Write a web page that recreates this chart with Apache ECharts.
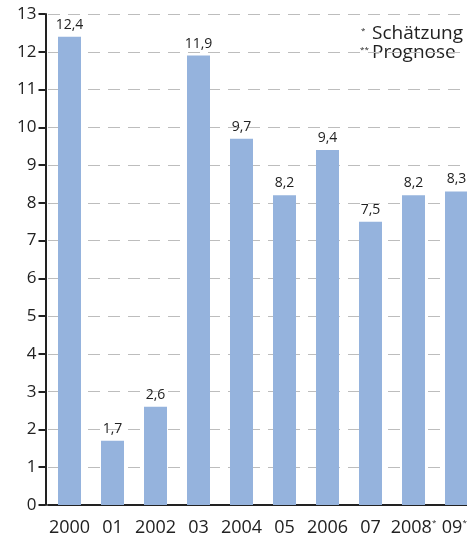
<!DOCTYPE html>
<html>
<head>
<meta charset="utf-8">
<script src="https://cdn.jsdelivr.net/npm/echarts@6/dist/echarts.min.js"></script>
<style>
  html, body { margin: 0; padding: 0; background: #fff; }
  #chart { width: 467px; height: 539px; }
</style>
</head>
<body>
<div id="chart"></div>
<script>
// Year categories (with markers for estimate/forecast)
const categories = ['2000', '01', '2002', '03', '2004', '05', '2006', '07', '2008*', '09**'];
const values = [12.4, 1.7, 2.6, 11.9, 9.7, 8.2, 9.4, 7.5, 8.2, 8.3];
const yTicks = [0, 1, 2, 3, 4, 5, 6, 7, 8, 9, 10, 11, 12, 13];
const legendLines = ['Schätzung', 'Prognose'];

const FONT = '"Open Sans", "Noto Sans", sans-serif';
const TEXT = '#222';

const chart = echarts.init(document.getElementById('chart'), null, { renderer: 'canvas' });

function xLabel(v) {
  const m = v.match(/^([^*]+)(\*+)$/);
  if (m) return m[1] + '{sup|' + m[2] + '}';
  return v;
}

chart.setOption({
  animation: false,
  grid: { left: 48, top: 14, bottom: 34, width: 430, outerBoundsMode: 'none', containLabel: false },
  xAxis: {
    type: 'category',
    data: categories,
    axisLine: { lineStyle: { color: TEXT, width: 2 } },
    axisTick: { show: false },
    axisLabel: {
      interval: 0,
      color: TEXT, fontSize: 18, fontFamily: FONT, margin: 14,
      formatter: xLabel,
      rich: {
        sup: { fontSize: 8, verticalAlign: 'top', color: TEXT, fontFamily: FONT, padding: [0, 0, 10, 0] }
      }
    }
  },
  yAxis: {
    type: 'value',
    offset: 2.5,
    min: yTicks[0],
    max: yTicks[yTicks.length - 1],
    interval: 1,
    axisLine: { show: true, lineStyle: { color: TEXT, width: 2 } },
    axisTick: { show: true, length: 7, lineStyle: { color: TEXT, width: 2 } },
    axisLabel: { color: TEXT, fontSize: 17, fontFamily: FONT, margin: 9 },
    splitLine: { lineStyle: { color: '#bdbdbd', type: [12, 8], width: 1 } }
  },
  series: [{
    type: 'bar',
    data: values,
    barWidth: 23,
    itemStyle: { color: '#95b3dd' },
    label: {
      show: true, position: 'top', distance: 5,
      color: TEXT, fontSize: 14, fontFamily: FONT,
      formatter: p => String(p.value).replace('.', ',')
    }
  }],
  graphic: [
    {
      type: 'text', left: 361, top: 27,
      style: { text: '*', fontSize: 8, fill: TEXT, fontFamily: FONT }
    },
    {
      type: 'text', left: 372, top: 24,
      style: { text: legendLines[0], fontSize: 19, fill: TEXT, fontFamily: FONT }
    },
    {
      type: 'text', left: 360, top: 46,
      style: { text: '**', fontSize: 8, fill: TEXT, fontFamily: FONT }
    },
    {
      type: 'text', left: 372, top: 43,
      style: { text: legendLines[1], fontSize: 19, fill: TEXT, fontFamily: FONT }
    }
  ]
});
</script>
</body>
</html>
